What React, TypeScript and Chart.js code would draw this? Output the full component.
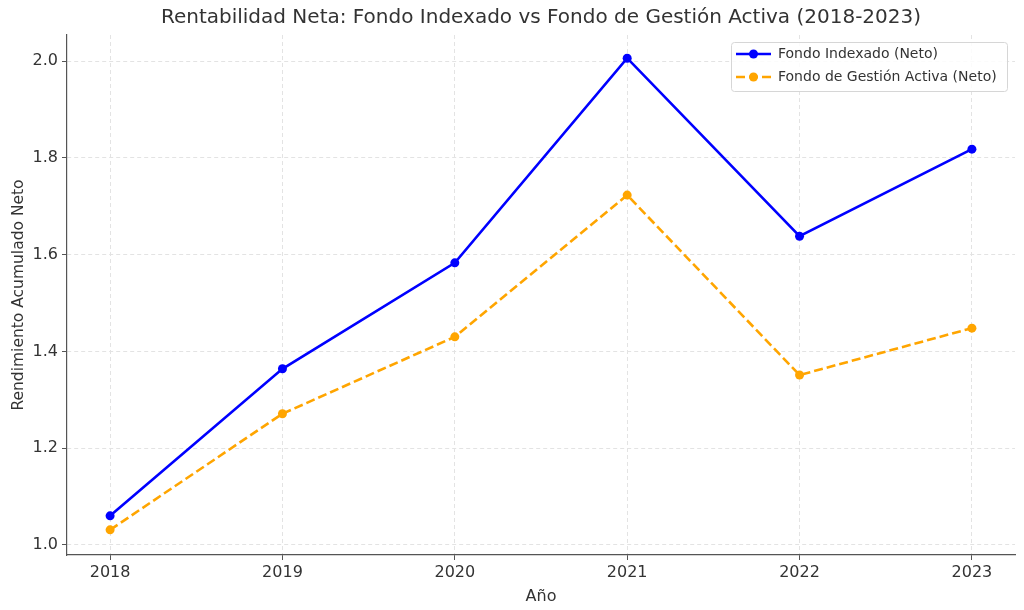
import React, { useEffect, useRef } from "react";
import { Chart, registerables, Plugin } from "chart.js";

Chart.register(...registerables);

// values
const years = [2018, 2019, 2020, 2021, 2022, 2023];
const indexado = [1.06, 1.364, 1.583, 2.006, 1.638, 1.818];
const gestionActiva = [1.031, 1.271, 1.43, 1.723, 1.351, 1.448];
const yTicks = [1.0, 1.2, 1.4, 1.6, 1.8, 2.0];

const TITLE = "Rentabilidad Neta: Fondo Indexado vs Fondo de Gestión Activa (2018-2023)";
const FONT = "'DejaVu Sans', sans-serif";
const BLUE = "#0000ff";
const ORANGE = "#ffa500";
const GRID = "#e3e3e3";
const SPINE = "#555555";

// title centered on the plot area, like matplotlib does
const titlePlugin: Plugin<"line"> = {
  id: "mplTitle",
  afterDraw(chart) {
    const { ctx, chartArea } = chart;
    ctx.save();
    ctx.font = `20px ${FONT}`;
    ctx.fillStyle = "#333333";
    ctx.textAlign = "center";
    ctx.textBaseline = "middle";
    ctx.fillText(TITLE, (chartArea.left + chartArea.right) / 2, 18);
    ctx.restore();
  },
};

const legendPlugin: Plugin<"line"> = {
  id: "mplLegend",
  afterDraw(chart) {
    const { ctx, chartArea } = chart;
    const w = 276, h = 49;
    const x = chartArea.right - 8 - w;
    const y = chartArea.top + 7;
    ctx.save();
    ctx.fillStyle = "rgba(255,255,255,0.85)";
    ctx.strokeStyle = "#d6d6d6";
    ctx.lineWidth = 1;
    ctx.beginPath();
    ctx.roundRect(x + 0.5, y + 0.5, w, h, 3);
    ctx.fill();
    ctx.stroke();

    const items = chart.data.datasets.map((ds: any) => ({
      label: ds.label as string,
      color: ds.borderColor as string,
      dash: (ds.borderDash as number[]) || [],
    }));
    items.forEach((it, i) => {
      const cy = y + 12 + i * 23;
      ctx.strokeStyle = it.color;
      ctx.lineWidth = 2.5;
      ctx.setLineDash(it.dash);
      ctx.beginPath();
      ctx.moveTo(x + 5, cy);
      ctx.lineTo(x + 40, cy);
      ctx.stroke();
      ctx.setLineDash([]);
      ctx.fillStyle = it.color;
      ctx.beginPath();
      ctx.arc(x + 22.5, cy, 4.5, 0, Math.PI * 2);
      ctx.fill();
      ctx.fillStyle = "#333333";
      ctx.font = `14px ${FONT}`;
      ctx.textAlign = "left";
      ctx.textBaseline = "middle";
      ctx.fillText(it.label, x + 47, cy);
    });
    ctx.restore();
  },
};

export default function App() {
  const canvasRef = useRef<HTMLCanvasElement | null>(null);

  useEffect(() => {
    const ctx = canvasRef.current?.getContext("2d");
    if (!ctx) return;

    const chart = new Chart(ctx, {
      type: "line",
      data: {
        datasets: [
          {
            label: "Fondo Indexado (Neto)",
            data: years.map((yr, i) => ({ x: yr, y: indexado[i] })),
            borderColor: BLUE,
            backgroundColor: BLUE,
            borderWidth: 2.6,
            pointRadius: 4.5,
            pointBorderWidth: 0,
            tension: 0,
          },
          {
            label: "Fondo de Gestión Activa (Neto)",
            data: years.map((yr, i) => ({ x: yr, y: gestionActiva[i] })),
            borderColor: ORANGE,
            backgroundColor: ORANGE,
            borderWidth: 2.6,
            borderDash: [9, 4],
            pointRadius: 4.5,
            pointBorderWidth: 0,
            tension: 0,
          },
        ],
      },
      options: {
        responsive: false,
        animation: false,
        layout: { padding: { top: 35, right: 9, left: 6, bottom: 0 } },
        scales: {
          x: {
            type: "linear",
            min: 2017.75,
            max: 2023.25,
            afterBuildTicks: (axis) => {
              axis.ticks = years.map((v) => ({ value: v }));
            },
            afterFit: (axis) => {
              axis.height = 55;
            },
            ticks: {
              color: "#333333",
              font: { family: FONT, size: 16 },
              padding: 3,
              callback: (v) => String(v),
            },
            grid: {
              color: GRID,
              lineWidth: 1,
              tickLength: 5,
              tickColor: SPINE,
            },
            border: { display: true, color: SPINE, width: 1.2, dash: [4, 3] },
            title: {
              display: true,
              text: "Año",
              color: "#333333",
              font: { family: FONT, size: 16 },
              padding: { top: 2 },
            },
          },
          y: {
            type: "linear",
            min: 0.979,
            max: 2.054,
            afterBuildTicks: (axis) => {
              axis.ticks = yTicks.map((v) => ({ value: v }));
            },
            afterFit: (axis) => {
              axis.width = 61;
            },
            ticks: {
              color: "#333333",
              font: { family: FONT, size: 16 },
              padding: 4,
              callback: (v) => Number(v).toFixed(1),
            },
            grid: {
              color: GRID,
              lineWidth: 1,
              tickLength: 5,
              tickColor: SPINE,
            },
            border: { display: true, color: SPINE, width: 1.2, dash: [4, 3] },
            title: {
              display: true,
              text: "Rendimiento Acumulado Neto",
              color: "#333333",
              font: { family: FONT, size: 15.5 },
              padding: { bottom: 6 },
            },
          },
        },
        plugins: {
          legend: { display: false },
          title: { display: false },
          tooltip: { enabled: false },
        },
      },
      plugins: [titlePlugin, legendPlugin],
    });

    return () => chart.destroy();
  }, []);

  return (
    <div style={{ position: "absolute", left: 0, top: 0, width: 1024, height: 610, background: "#fff" }}>
      <canvas ref={canvasRef} width={1024} height={610} style={{ width: 1024, height: 610 }} />
    </div>
  );
}
